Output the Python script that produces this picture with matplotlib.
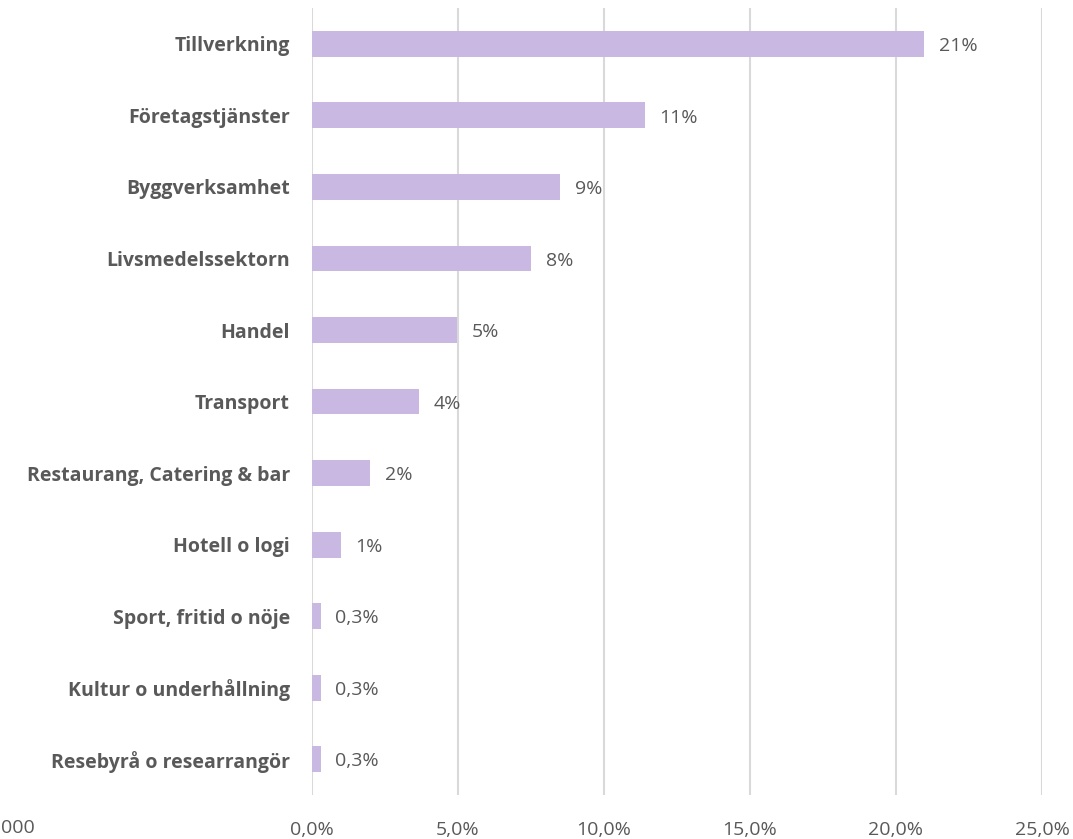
import matplotlib.pyplot as plt
from matplotlib.ticker import FuncFormatter

categories = ["Tillverkning", "Företagstjänster", "Byggverksamhet", "Livsmedelssektorn",
              "Handel", "Transport", "Restaurang, Catering & bar", "Hotell o logi",
              "Sport, fritid o nöje", "Kultur o underhållning", "Resebyrå o researrangör"]
values = [20.96, 11.4, 8.5, 7.5, 4.97, 3.66, 2.0, 0.99, 0.3, 0.3, 0.3]
value_labels = ["21%", "11%", "9%", "8%", "5%", "4%", "2%", "1%", "0,3%", "0,3%", "0,3%"]
ticks = [0, 5, 10, 15, 20, 25]

bar_color = "#C9B8E2"
text_color = "#595959"
plt.rcParams['font.family'] = ['Open Sans', 'DejaVu Sans']

fig = plt.figure(figsize=(10.73, 8.39), dpi=100)
ax = fig.add_axes([0.2908, 0.0524, 0.6803, 0.938])

y = list(range(len(categories)))
ax.barh(y, values, height=0.36, color=bar_color, zorder=3)
for yi, v, lab in zip(y, values, value_labels):
    ax.text(v + 0.5, yi + 0.03, lab, va='center', ha='left', fontsize=14, color=text_color)

ax.set_ylim(len(categories) - 0.5, -0.5)
ax.set_xlim(0, 25)
ax.set_xticks(ticks)
ax.xaxis.set_major_formatter(FuncFormatter(lambda v, p: f"{v:.1f}%".replace(".", ",")))
ax.set_yticks(y)
ax.set_yticklabels(categories, fontweight='bold')
ax.tick_params(axis='y', length=0, pad=16, labelsize=14, labelcolor=text_color)
ax.tick_params(axis='x', length=0, pad=19, labelsize=14, labelcolor=text_color)
ax.grid(axis='x', color="#D9D9D9", linewidth=1.5, zorder=0)
for s in ax.spines.values():
    s.set_visible(False)

fig.text(0.001, 1 - 828 / 839, "000", fontsize=14, color=text_color,
         ha='left', va='center')

fig.savefig("out.png", dpi=100)
